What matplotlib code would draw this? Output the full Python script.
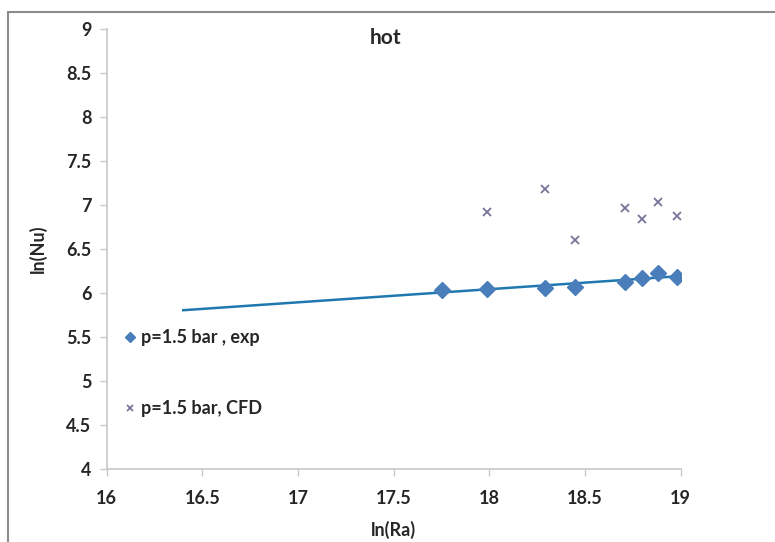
import numpy as np
import matplotlib
matplotlib.use("Agg")
import matplotlib.pyplot as plt
from matplotlib.patches import Rectangle

plt.rcParams['font.family'] = ['Lato', 'DejaVu Sans']

# experimental points, p = 1.5 bar
ln_ra_exp = [17.75, 17.99, 18.29, 18.45, 18.71, 18.80, 18.88, 18.98]
ln_nu_exp = [6.03, 6.05, 6.06, 6.07, 6.13, 6.17, 6.23, 6.18]

# CFD points, p = 1.5 bar
ln_ra_cfd = [17.99, 18.29, 18.45, 18.71, 18.80, 18.88, 18.98]
ln_nu_cfd = [6.92, 7.18, 6.60, 6.97, 6.84, 7.03, 6.88]

x_ticks = [16, 16.5, 17, 17.5, 18, 18.5, 19]
y_ticks = [4, 4.5, 5, 5.5, 6, 6.5, 7, 7.5, 8, 8.5, 9]
trend_start = 16.4

fig = plt.figure(figsize=(7.75, 5.42), dpi=100)
ax = fig.add_axes([0.1377, 0.1347, 0.7406, 0.8118])

# linear trendline of the exp series, forecast backwards as in Excel
k, b0 = np.polyfit(ln_ra_exp, ln_nu_exp, 1)
xt = np.array([trend_start, max(ln_ra_exp)])
ax.plot(xt, k * xt + b0, color='#1f78b0', lw=1.8, zorder=2)

ax.plot(ln_ra_exp, ln_nu_exp, ls='none', marker='D', ms=8, color='#4a7ebb',
        label='p=1.5 bar , exp', zorder=3)
ax.plot(ln_ra_cfd, ln_nu_cfd, ls='none', marker='x', ms=6, mew=1.3,
        color='#75759a', label='p=1.5 bar, CFD', zorder=3)

ax.set_xlim(16, 19)
ax.set_ylim(4, 9)
ax.set_xticks(x_ticks)
ax.set_xticklabels([f'{v:g}' for v in x_ticks])
ax.set_yticks(y_ticks)
ax.set_yticklabels([f'{v:g}' for v in y_ticks])

for side in ['top', 'right']:
    ax.spines[side].set_visible(False)
for side in ['left', 'bottom']:
    ax.spines[side].set_color('#c8c8c8')
    ax.spines[side].set_linewidth(1.2)
ax.tick_params(length=5, width=1, color='#c8c8c8', labelsize=13,
               labelcolor='#262626', pad=6)
ax.tick_params(axis='x', pad=10)
for lab in ax.get_xticklabels() + ax.get_yticklabels():
    lab.set_fontweight('bold')

ax.set_xlabel('ln(Ra)', fontsize=13, fontweight='bold', color='#262626', labelpad=10)
ax.set_ylabel('ln(Nu)', fontsize=13, fontweight='bold', color='#262626', labelpad=14)
ax.text(0.485, 0.98, 'hot', transform=ax.transAxes, ha='center', va='center',
        fontsize=15, fontweight='bold', color='#262626')

leg = ax.legend(loc='upper left', bbox_to_anchor=(0.005, 0.355), frameon=False,
                fontsize=13, labelspacing=3.0, handlelength=0.5,
                handletextpad=0.35, markerscale=0.7)
for t in leg.get_texts():
    t.set_fontweight('bold')
    t.set_color('#262626')

# chart border as in the source screenshot
fig.patches.append(Rectangle((8 / 775, -0.1), 1.2, 1 - 12 / 542 + 0.1,
                             transform=fig.transFigure, fill=False,
                             edgecolor='#8c8c8c', lw=1.5))

fig.savefig('out.png', dpi=100)
